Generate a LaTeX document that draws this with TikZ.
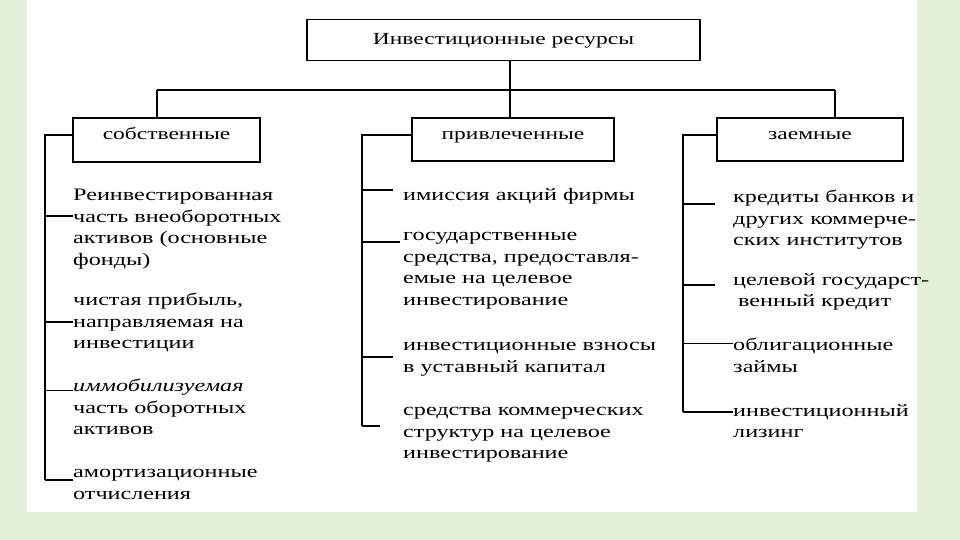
\documentclass[tikz,border=0pt]{standalone}
\usepackage{fontspec}
\setmainfont{Liberation Serif}[FakeStretch=1.38]
\definecolor{bgc}{HTML}{E2EFD9}
\tikzset{
  boxnode/.style={draw, line width=1.3pt, inner sep=0pt, text height=12pt, text depth=12pt,
    font=\fontsize{17}{20}\selectfont},
  topnode/.style={boxnode, text depth=3pt},
  item/.style={anchor=north west, inner sep=0pt, align=left,
    font=\fontsize{17.5}{21.6}\selectfont},
  conn/.style={line width=1.4pt},
}
\begin{document}
\begin{tikzpicture}[x=1pt,y=-1pt]
\fill[bgc] (0,0) rectangle (960,540);
\fill[white] (27,0) rectangle (917,512);
\useasboundingbox (0,0) rectangle (960,540);

% boxes
\node[topnode, minimum width=393pt, minimum height=41pt] (top) at (503.5,40) {Инвестиционные ресурсы};
\node[boxnode, minimum width=187pt, minimum height=44pt] (sob) at (166.5,140) {собственные};
\node[boxnode, minimum width=202pt, minimum height=43pt] (pri) at (513,139.5) {привлеченные};
\node[boxnode, minimum width=186pt, minimum height=43pt] (zae) at (810,139.5) {заемные};

% bus
\coordinate (bus) at (510,90);
\coordinate (busL) at (157,90);
\coordinate (busR) at (835,90);
\draw[conn] (top.south -| bus) -- (bus);
\draw[conn] (busL) -- (busR);
\draw[conn] (busL) -- (busL |- sob.north);
\draw[conn] (bus) -- (bus |- pri.north);
\draw[conn] (busR) -- (busR |- zae.north);

% column 1 items
\node[item] (a11) at (73,189) {Реинвестированная\\часть внеоборотных\\активов (основные\\фонды)};
\node[item] (a12) at (73,293) {чистая прибыль,\\направляемая на\\инвестиции};
\node[item] (a13) at (73,379) {\textit{иммобилизуемая}\\часть оборотных\\активов};
\node[item] (a14) at (73,469) {амортизационные\\отчисления};

% column 2 items
\node[item] (a21) at (403,188) {имиссия акций фирмы};
\node[item] (a22) at (403,232) {государственные\\средства, предоставля-\\емые на целевое\\инвестирование};
\node[item] (a23) at (403,342) {инвестиционные взносы\\в уставный капитал};
\node[item] (a24) at (403,407) {средства коммерческих\\структур на целевое\\инвестирование};

% column 3 items
\node[item] (a31) at (733,190) {кредиты банков и\\других коммерче-\\ских институтов};
\node[item] (a32) at (733,273) {целевой государст-\\\hspace*{5pt}венный кредит};
\node[item] (a33) at (733,338) {облигационные\\займы};
\node[item] (a34) at (733,404) {инвестиционный\\лизинг};

% column 1 connectors
\coordinate (c1t) at (45,135);
\coordinate (b11) at (45,216);
\coordinate (b12) at (45,322);
\coordinate (b13) at (45,390);
\coordinate (b14) at (45,480);
\draw[conn] (sob.west |- c1t) -- (c1t) -- (b14);
\draw[conn] (b11) -- (b11 -| a11.west);
\draw[conn] (b12) -- (b12 -| a12.west);
\draw[conn, line width=1pt] (b13) -- (b13 -| a13.west);
\draw[conn] (b14) -- (b14 -| a14.west);

% column 2 connectors
\coordinate (c2t) at (362,135);
\coordinate (b21) at (362,190);
\coordinate (b22) at (362,242);
\coordinate (b23) at (362,357);
\coordinate (b24) at (362,426);
\draw[conn] (pri.west |- c2t) -- (c2t) -- (b24);
\draw[conn, shorten >=10pt] (b21) -- (b21 -| a21.west);
\draw[conn, shorten >=3pt] (b22) -- (b22 -| a22.west);
\draw[conn, shorten >=10pt] (b23) -- (b23 -| a23.west);
\draw[conn, shorten >=23pt] (b24) -- (b24 -| a24.west);

% column 3 connectors
\coordinate (c3t) at (683,135);
\coordinate (b31) at (683,204);
\coordinate (b32) at (683,285);
\coordinate (b33) at (683,343);
\coordinate (b34) at (683,412);
\draw[conn] (zae.west |- c3t) -- (c3t) -- (b34);
\draw[conn, shorten >=18pt] (b31) -- (b31 -| a31.west);
\draw[conn, shorten >=18pt] (b32) -- (b32 -| a32.west);
\draw[conn, line width=1pt] (b33) -- (b33 -| a33.west);
\draw[conn] (b34) -- (b34 -| a34.west);
\end{tikzpicture}
\end{document}
